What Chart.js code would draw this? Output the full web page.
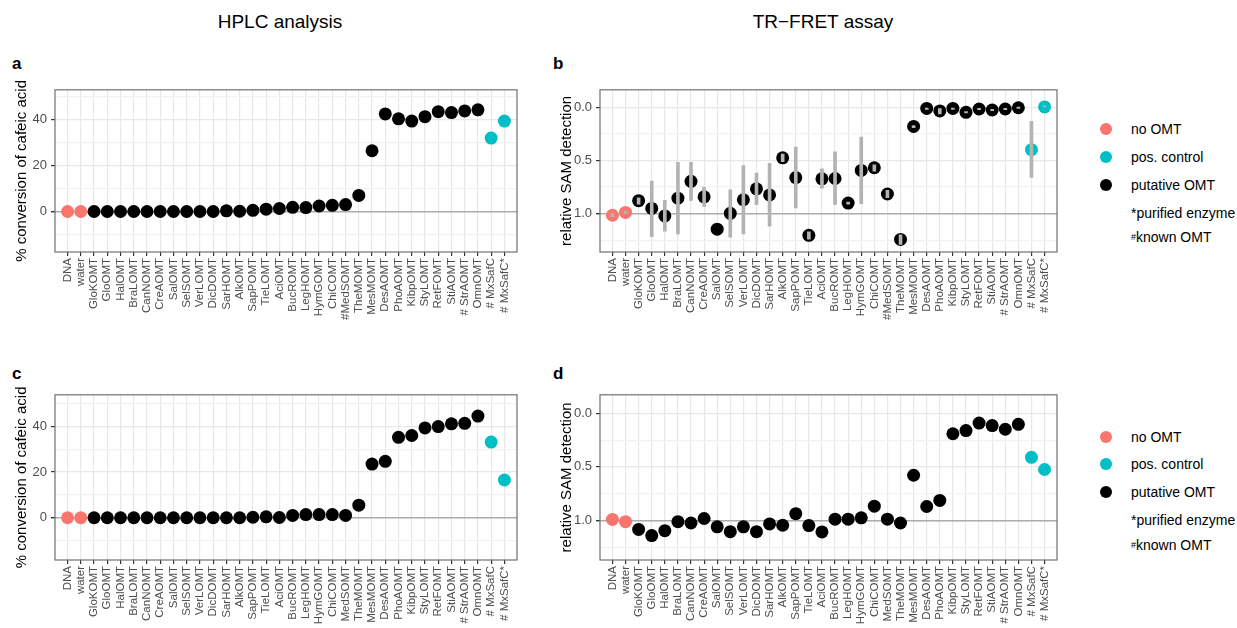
<!DOCTYPE html>
<html>
<head>
<meta charset="utf-8">
<script src="https://cdn.jsdelivr.net/npm/chart.js@4.4.1/dist/chart.umd.min.js"></script>
<style>
  body { margin: 0; background: #fff; width: 1237px; height: 628px; overflow: hidden; position: relative;
         font-family: "Liberation Sans", Arial, sans-serif; }
  canvas { position: absolute; }
  .title { position: absolute; width: 240px; text-align: center; font-size: 19px; color: #000; }
  .tag { position: absolute; font-size: 17px; font-weight: bold; color: #000; }
  .leg { position: absolute; font-size: 14px; color: #000; white-space: nowrap; line-height: 16px; }
  .dot { position: absolute; width: 12px; height: 12px; border-radius: 50%; }
  .hash { font-size: 9px; vertical-align: 2px; }
</style>
</head>
<body>
<div class="title" style="left:160px; top:11px;">HPLC analysis</div>
<div class="title" style="left:703px; top:11px;">TR−FRET assay</div>
<div class="tag" style="left:12px; top:54px;">a</div>
<div class="tag" style="left:553px; top:54px;">b</div>
<div class="tag" style="left:12px; top:364px;">c</div>
<div class="tag" style="left:553px; top:364px;">d</div>

<canvas id="chartA" width="525" height="245" style="left:0px; top:78px;"></canvas>
<canvas id="chartB" width="520" height="245" style="left:545px; top:78px;"></canvas>
<canvas id="chartC" width="525" height="243" style="left:0px; top:383px;"></canvas>
<canvas id="chartD" width="520" height="243" style="left:545px; top:383px;"></canvas>

<div id="legendTop"></div>
<div id="legendBottom"></div>

<script>
// categories (a/b share one order, c/d another)
const labelsAB = ["DNA", "water", "GloKOMT", "GloOMT", "HalOMT", "BraLOMT", "CanNOMT", "CreAOMT", "SalOMT",
  "SelSOMT", "VerLOMT", "DicDOMT", "SarHOMT", "AlkOMT", "SapPOMT", "TieLOMT", "AciOMT", "BucROMT", "LegHOMT",
  "HymGOMT", "ChiCOMT", "#MedSOMT", "TheMOMT", "MesMOMT", "DesAOMT", "PhoAOMT", "KibpOMT", "StyLOMT", "RetFOMT",
  "StiAOMT", "# StrAOMT", "OmnOMT", "# MxSafC", "# MxSafC*"];
const labelsCD = ["DNA", "water", "GloKOMT", "GloOMT", "HalOMT", "BraLOMT", "CanNOMT", "CreAOMT", "SalOMT",
  "SelSOMT", "VerLOMT", "DicDOMT", "SarHOMT", "AlkOMT", "SapPOMT", "TieLOMT", "AciOMT", "BucROMT", "LegHOMT",
  "HymGOMT", "ChiCOMT", "MedSOMT", "TheMOMT", "MesMOMT", "DesAOMT", "PhoAOMT", "KibpOMT", "StyLOMT", "RetFOMT",
  "StiAOMT", "# StrAOMT", "OmnOMT", "# MxSafC", "# MxSafC*"];

// group of each position (same in all panels)
const groups = ["none", "none", "put", "put", "put", "put", "put", "put", "put", "put", "put", "put", "put",
  "put", "put", "put", "put", "put", "put", "put", "put", "put", "put", "put", "put", "put", "put", "put",
  "put", "put", "put", "put", "pos", "pos"];

// a: % conversion of cafeic acid
const valuesA = [0, 0, 0, 0, 0, 0, 0, 0, 0, 0, 0, 0, 0.3, 0.1, 0.5, 1.0, 1.3, 1.8, 1.7, 2.4, 2.7, 3.0,
  7.0, 26.4, 42.4, 40.3, 39.3, 41.2, 43.4, 43.0, 43.7, 44.2, 31.9, 39.3];

// b: relative SAM detection, with error bar ends
const valuesB = [1.015, 0.988, 0.878, 0.951, 1.021, 0.854, 0.696, 0.842, 1.146, 0.997, 0.869, 0.766, 0.824,
  0.474, 0.660, 1.204, 0.672, 0.669, 0.900, 0.593, 0.568, 0.815, 1.243, 0.179, 0.009, 0.033, 0.009, 0.046,
  0.015, 0.024, 0.015, 0.003, 0.398, -0.005];
const errLowB = [1.00, 0.975, 0.85, 0.693, 0.875, 0.517, 0.517, 0.751, null, 0.775, 0.547, 0.617, 0.526,
  0.44, 0.374, 1.17, 0.578, 0.419, 0.89, 0.280, 0.54, 0.78, 1.20, 0.17, 0.0, 0.01, 0.0, 0.04,
  0.008, 0.018, 0.008, -0.003, 0.131, -0.012];
const errHighB = [1.03, 1.0, 0.91, 1.216, 1.164, 1.191, 0.875, 0.933, null, 1.222, 1.191, 0.915, 1.119,
  0.51, 0.945, 1.24, 0.760, 0.912, 0.91, 0.906, 0.60, 0.85, 1.29, 0.19, 0.018, 0.06, 0.018, 0.052,
  0.022, 0.03, 0.022, 0.009, 0.660, 0.0];

// c: % conversion of cafeic acid
const valuesC = [0, 0, 0, 0, 0, 0, 0, 0, 0, 0, 0, 0, 0, 0, 0.2, 0.4, 0.1, 1.0, 1.4, 1.4, 1.4, 1.0,
  5.5, 23.5, 24.7, 35.2, 36.0, 39.3, 39.9, 41.1, 41.3, 44.5, 33.1, 16.5];

// d: relative SAM detection
const valuesD = [0.991, 1.012, 1.084, 1.142, 1.096, 1.012, 1.024, 0.982, 1.060, 1.105, 1.060, 1.105, 1.033,
  1.045, 0.937, 1.048, 1.108, 0.988, 0.988, 0.976, 0.867, 0.988, 1.024, 0.578, 0.870, 0.813, 0.190, 0.160,
  0.090, 0.114, 0.148, 0.102, 0.410, 0.524];

const groupColors = { none: "#F8766D", pos: "#00BFC4", put: "#000000" };
const legendItems = [
  { dot: "none", text: "no OMT" },
  { dot: "pos", text: "pos. control" },
  { dot: "put", text: "putative OMT" },
  { dot: null, text: "*purified enzyme" },
  { dot: null, text: '<span class="hash">#</span>known OMT' },
];

Chart.defaults.font.family = '"Liberation Sans", Arial, sans-serif';
Chart.defaults.animation = false;

// grey frame round the plot area
const panelBorder = {
  id: "panelBorder",
  afterDraw(chart) {
    const { ctx, chartArea: a } = chart;
    ctx.save();
    ctx.strokeStyle = "#707070";
    ctx.lineWidth = 1.2;
    ctx.strokeRect(a.left, a.top, a.right - a.left, a.bottom - a.top);
    ctx.restore();
  },
};

function makePanel(id, labels, values, y, xHeight, err) {
  const near = (a, b) => Math.abs(a - b) < 1e-6;
  const isMajor = (v) => near(Math.round(v / y.major) * y.major, v);

  const datasets = [
    {
      type: "scatter",
      data: values.map((v, i) => ({ x: i, y: v })),
      pointRadius: 6.5,
      pointHoverRadius: 6.5,
      pointBorderWidth: 0,
      pointBackgroundColor: groups.map((g) => groupColors[g]),
      order: 1,
    },
  ];

  if (err) {
    const bars = [];
    err.low.forEach((lo, i) => {
      if (lo !== null && err.high[i] !== null) bars.push({ x: i, y: [lo, err.high[i]] });
    });
    datasets.push({
      type: "bar",
      data: bars,
      backgroundColor: "#b3b3b3",
      barThickness: 3,
      order: 0,
    });
  }

  return new Chart(document.getElementById(id), {
    type: "scatter",
    data: { datasets },
    plugins: [panelBorder],
    options: {
      responsive: false,
      layout: { padding: { left: 9, top: 6, right: 8, bottom: 0 } },
      plugins: { legend: { display: false }, tooltip: { enabled: false } },
      scales: {
        x: {
          type: "linear",
          min: -0.95,
          max: 33.95,
          offset: false,
          border: { display: false },
          grid: { color: "#e8e8e8", lineWidth: 1.2, offset: false, tickLength: 4, tickColor: "#333" },
          ticks: {
            stepSize: 1,
            includeBounds: false,
            autoSkip: false,
            maxTicksLimit: 100,
            minRotation: 90,
            maxRotation: 90,
            padding: 2,
            color: "#4d4d4d",
            font: { size: 11.5 },
            callback: (v) => labels[v] ?? "",
          },
          afterFit: (s) => { s.height = xHeight; },
        },
        y: {
          type: "linear",
          min: y.min,
          max: y.max,
          reverse: !!y.reverse,
          beginAtZero: false,
          border: { display: false },
          grid: {
            color: (c) => (near(c.tick.value, y.ref) ? "#ababab" : isMajor(c.tick.value) ? "#e8e8e8" : "#f2f2f2"),
            lineWidth: (c) => (near(c.tick.value, y.ref) ? 1.4 : 1.2),
            tickLength: 4,
            tickColor: (c) => (isMajor(c.tick.value) ? "#333" : "rgba(0,0,0,0)"),
          },
          ticks: {
            stepSize: y.step,
            includeBounds: false,
            padding: 4,
            color: "#4d4d4d",
            font: { size: 13 },
            callback: (v) => (isMajor(v) ? y.fmt(v) : ""),
          },
          title: { display: true, text: y.title, color: "#000", font: { size: 15 }, padding: { top: 4, bottom: 0 } },
          afterFit: (s) => { s.width = 46; },
        },
      },
    },
  });
}

const convTitle = "% conversion of cafeic acid";
const samTitle = "relative SAM detection";
const intFmt = (v) => String(Math.round(v));
const decFmt = (v) => v.toFixed(1);

makePanel("chartA", labelsAB, valuesA,
  { min: -17.6, max: 52.9, step: 10, major: 20, ref: 0, fmt: intFmt, title: convTitle }, 71);
makePanel("chartB", labelsAB, valuesB,
  { min: -0.166, max: 1.361, step: 0.25, major: 0.5, ref: 1, reverse: true, fmt: decFmt, title: samTitle }, 71,
  { low: errLowB, high: errHighB });
makePanel("chartC", labelsCD, valuesC,
  { min: -18.5, max: 53.8, step: 10, major: 20, ref: 0, fmt: intFmt, title: convTitle }, 66);
makePanel("chartD", labelsCD, valuesD,
  { min: -0.174, max: 1.37, step: 0.25, major: 0.5, ref: 1, reverse: true, fmt: decFmt, title: samTitle }, 66);

// legends at the right of b and d
function buildLegend(el, rowsY) {
  let html = "";
  legendItems.forEach((item, i) => {
    const yc = rowsY[i];
    if (item.dot) {
      html += `<div class="dot" style="left:${1100}px; top:${yc - 6}px; background:${groupColors[item.dot]}"></div>`;
    }
    html += `<div class="leg" style="left:${1131}px; top:${yc - 8}px;">${item.text}</div>`;
  });
  el.innerHTML = html;
}
buildLegend(document.getElementById("legendTop"), [129, 157, 185, 213, 237]);
buildLegend(document.getElementById("legendBottom"), [437, 464, 492, 520, 545]);
</script>
</body>
</html>
